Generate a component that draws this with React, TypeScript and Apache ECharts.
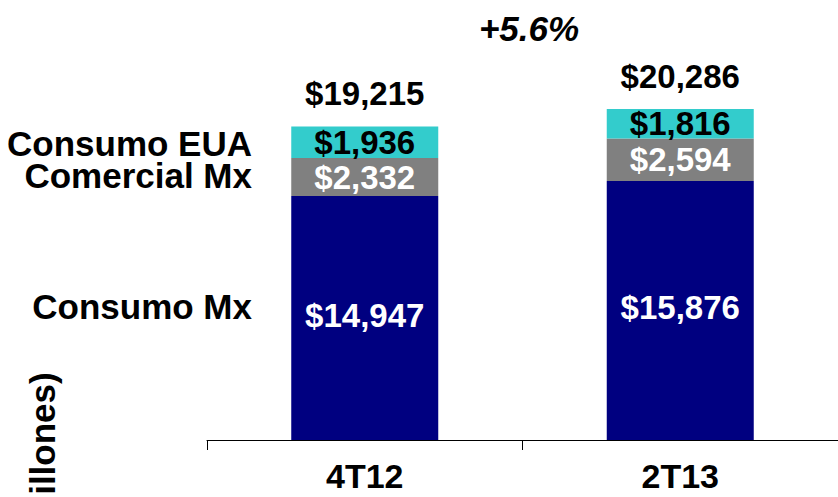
import React, { useEffect, useRef } from "react";
import * as echarts from "echarts";

const categories = ["4T12", "2T13"];
const consumoMx = [14947, 15876];
const comercialMx = [2332, 2594];
const consumoEUA = [1936, 1816];
const totals = [19215, 20286];
const growthLabel = "+5.6%";
const seriesNames = ["Consumo Mx", "Comercial Mx", "Consumo EUA"];
const unitLabel = "(Millones)";

const FONT = '"Liberation Sans", Arial, Helvetica, sans-serif';
const fmt = (v: number) => "$" + v.toLocaleString("en-US");

export default function App() {
  const ref = useRef<HTMLDivElement>(null);
  useEffect(() => {
    document.body.style.margin = "0";
    if (!ref.current) return;
    const chart = echarts.init(ref.current, null, { renderer: "svg" });
    const labelBase = {
      show: true,
      position: "inside" as const,
      fontSize: 33,
      fontWeight: "bold" as const,
      fontFamily: FONT,
      formatter: (p: any) => fmt(p.value),
    };
    const sideText = (text: string, y: number) => ({
      type: "text",
      x: 252,
      y,
      style: {
        text,
        fill: "#000",
        font: `bold 35px ${FONT}`,
        textAlign: "right",
        textVerticalAlign: "middle",
      },
    });
    chart.setOption({
      animation: false,
      backgroundColor: "#ffffff",
      grid: { left: 207, top: 32, width: 636, height: 408, containLabel: false },
      xAxis: {
        type: "category",
        data: categories,
        boundaryGap: true,
        axisLine: { show: true, lineStyle: { color: "#000", width: 1 } },
        axisTick: { show: true, length: 10, lineStyle: { color: "#000", width: 1 } },
        axisLabel: {
          fontSize: 34,
          fontWeight: "bold",
          fontFamily: FONT,
          color: "#000",
          margin: 19,
        },
        splitLine: { show: false },
      },
      yAxis: {
        type: "value",
        min: 0,
        max: 25000,
        show: false,
        splitLine: { show: false },
      },
      series: [
        {
          name: seriesNames[0],
          type: "bar",
          stack: "total",
          data: consumoMx,
          barWidth: 147,
          itemStyle: { color: "#000080" },
          label: { ...labelBase, color: "#fff", offset: [0, -3] },
        },
        {
          name: seriesNames[1],
          type: "bar",
          stack: "total",
          data: comercialMx,
          barWidth: 147,
          itemStyle: { color: "#808080" },
          label: { ...labelBase, color: "#fff" },
        },
        {
          name: seriesNames[2],
          type: "bar",
          stack: "total",
          data: consumoEUA,
          barWidth: 147,
          itemStyle: { color: "#33CCCC" },
          label: { ...labelBase, color: "#000" },
        },
        {
          name: "Total",
          type: "bar",
          stack: "total",
          data: totals.map(() => 0),
          barWidth: 147,
          silent: true,
          itemStyle: { color: "rgba(0,0,0,0)" },
          label: {
            show: true,
            position: "top",
            distance: 16,
            fontSize: 33,
            fontWeight: "bold",
            fontFamily: FONT,
            color: "#000",
            formatter: (p: any) => fmt(totals[p.dataIndex]),
          },
        },
      ],
      graphic: [
        sideText(seriesNames[2], 143),
        sideText(seriesNames[1], 175),
        sideText(seriesNames[0], 306),
        {
          type: "text",
          x: 529,
          y: 28,
          style: {
            text: growthLabel,
            fill: "#000",
            font: `italic bold 35px ${FONT}`,
            textAlign: "center",
            textVerticalAlign: "middle",
          },
        },
        {
          type: "text",
          x: 42,
          y: 454,
          rotation: Math.PI / 2,
          style: {
            text: unitLabel,
            fill: "#000",
            font: `bold 35px ${FONT}`,
            textAlign: "center",
            textVerticalAlign: "middle",
          },
        },
      ],
    });
    return () => chart.dispose();
  }, []);
  return <div ref={ref} style={{ width: 838, height: 497 }} />;
}
